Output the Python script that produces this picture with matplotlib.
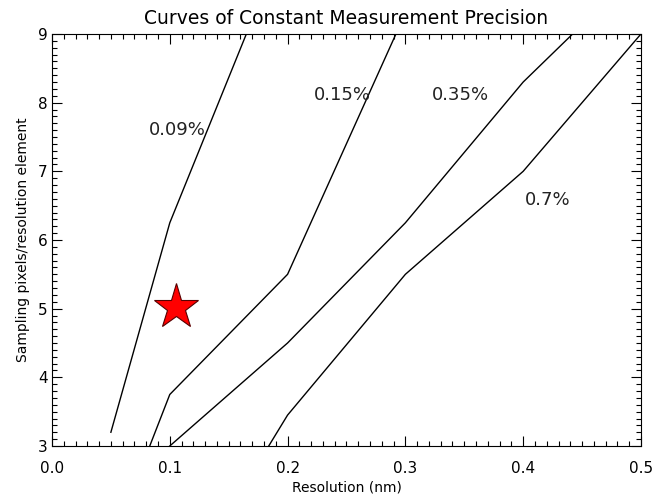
import numpy as np
import matplotlib
matplotlib.use("Agg")
import matplotlib.pyplot as plt
from matplotlib.ticker import MultipleLocator, FormatStrFormatter

# contour lines: (resolution nm, sampling pixels)
curve_009_x = [0.05, 0.10, 0.165]
curve_009_y = [3.20, 6.25, 9.00]
curve_015_x = [0.083, 0.10, 0.20, 0.292]
curve_015_y = [3.00, 3.75, 5.50, 9.00]
curve_035_x = [0.10, 0.20, 0.30, 0.40, 0.442]
curve_035_y = [3.00, 4.50, 6.25, 8.30, 9.00]
curve_07_x = [0.184, 0.20, 0.30, 0.40, 0.50]
curve_07_y = [3.00, 3.45, 5.50, 7.00, 9.00]

labels = ["0.09%", "0.15%", "0.35%", "0.7%"]
label_x = [0.1064, 0.2468, 0.347, 0.421]
label_y = [7.60, 8.11, 8.11, 6.58]

star_x = 0.1057
star_y = 5.02

fig = plt.figure(figsize=(6.64, 4.94), dpi=100)
ax = fig.add_axes([0.0783, 0.0972, 0.8870, 0.8340])

curves = [(curve_009_x, curve_009_y), (curve_015_x, curve_015_y),
          (curve_035_x, curve_035_y), (curve_07_x, curve_07_y)]
for cx, cy in curves:
    ax.plot(cx, cy, color="black", lw=1.0)

for txt, lx, ly in zip(labels, label_x, label_y):
    ax.text(lx, ly, txt, ha="center", va="center", fontsize=13, color="#222222")

ax.plot(star_x, star_y, marker="*", ms=34, markerfacecolor="red",
        markeredgecolor="#550000", markeredgewidth=0.8, linestyle="none")

ax.set_xlim(0.0, 0.5)
ax.set_ylim(3, 9)
ax.xaxis.set_major_locator(MultipleLocator(0.1))
ax.xaxis.set_minor_locator(MultipleLocator(0.01))
ax.xaxis.set_major_formatter(FormatStrFormatter("%.1f"))
ax.yaxis.set_major_locator(MultipleLocator(1))
ax.yaxis.set_minor_locator(MultipleLocator(0.1))
ax.tick_params(which="both", direction="in", top=True, right=True,
               labelsize=11, width=0.8)
ax.tick_params(which="major", length=7)
ax.tick_params(which="minor", length=3.5)
ax.tick_params(axis="x", pad=11)
ax.tick_params(axis="y", pad=3)

ax.set_xlabel("Resolution (nm)", fontsize=10, labelpad=3)
ax.set_ylabel("Sampling pixels/resolution element", fontsize=10, labelpad=6)
ax.set_title("Curves of Constant Measurement Precision", fontsize=13.5, pad=7)

fig.savefig("out.png", dpi=100)
